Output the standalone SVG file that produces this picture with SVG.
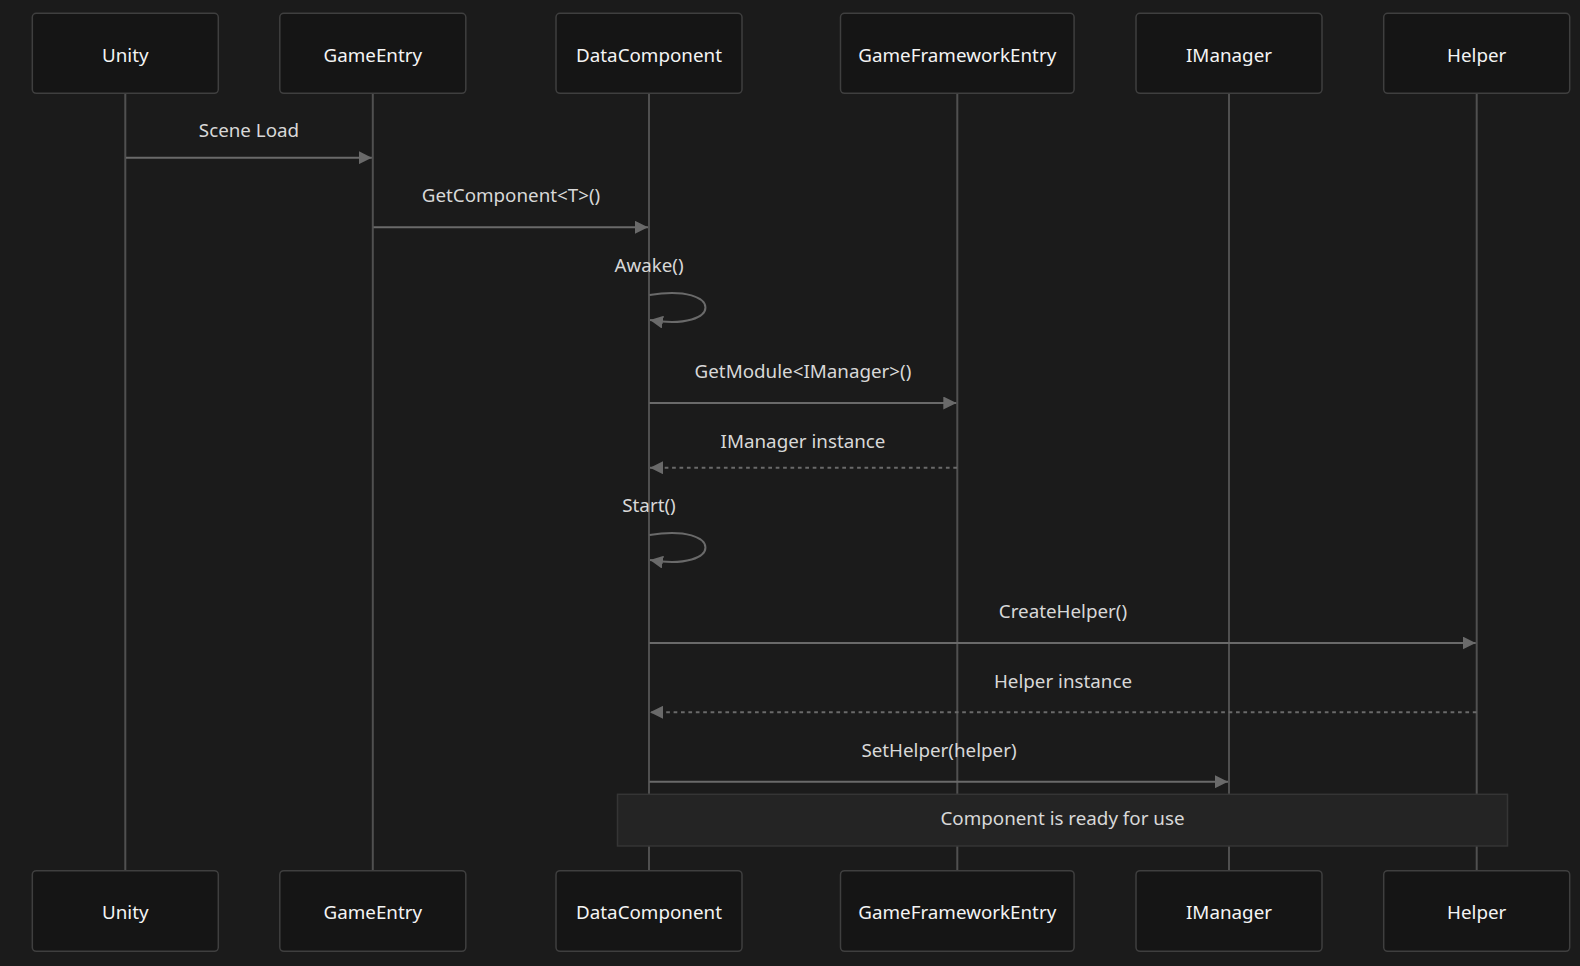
<svg xmlns="http://www.w3.org/2000/svg" width="1580" height="966" viewBox="0 0 1580 966">
<defs>
<style>
.actor rect{fill:#151515;stroke:#3f3f3f;stroke-width:1.5}
.actor text{fill:#f4f4f4;font-family:"Noto Sans","Open Sans",sans-serif;font-size:18.8px;text-anchor:middle;dominant-baseline:central}
.life{stroke:#505050;stroke-width:2}
.msg{stroke:#6a6a6a;stroke-width:2;fill:none}
.dash{stroke-dasharray:3.7 3.7}
.lbl{fill:#d8d8d8;font-family:"Noto Sans","Open Sans",sans-serif;font-size:18.8px;text-anchor:middle;dominant-baseline:central}
.note rect{fill:#242424;stroke:#353535;stroke-width:1.5}
</style>
<marker id="ah" viewBox="0 0 13 13" refX="13" refY="6.5" markerWidth="13" markerHeight="13" markerUnits="userSpaceOnUse" orient="auto">
<path d="M0,0 L13,6.5 L0,13 z" fill="#6a6a6a"/>
</marker>
</defs>
<rect width="1580" height="966" fill="#1b1b1b"/>
<g id="lifelines">
<line class="life" x1="125.3" y1="93.3" x2="125.3" y2="870.7"/>
<line class="life" x1="372.8" y1="93.3" x2="372.8" y2="870.7"/>
<line class="life" x1="649" y1="93.3" x2="649" y2="870.7"/>
<line class="life" x1="957.3" y1="93.3" x2="957.3" y2="870.7"/>
<line class="life" x1="1229" y1="93.3" x2="1229" y2="870.7"/>
<line class="life" x1="1476.7" y1="93.3" x2="1476.7" y2="870.7"/>
</g>
<g id="actor-unity" class="actor">
<rect x="32.3" y="13.3" width="186" height="80" rx="4"/><text x="125.3" y="55">Unity</text>
<rect x="32.3" y="870.7" width="186" height="80.6" rx="4"/><text x="125.3" y="912">Unity</text>
</g>
<g id="actor-gameentry" class="actor">
<rect x="279.8" y="13.3" width="186" height="80" rx="4"/><text x="372.8" y="55">GameEntry</text>
<rect x="279.8" y="870.7" width="186" height="80.6" rx="4"/><text x="372.8" y="912">GameEntry</text>
</g>
<g id="actor-datacomponent" class="actor">
<rect x="556" y="13.3" width="186" height="80" rx="4"/><text x="649" y="55">DataComponent</text>
<rect x="556" y="870.7" width="186" height="80.6" rx="4"/><text x="649" y="912">DataComponent</text>
</g>
<g id="actor-gameframeworkentry" class="actor">
<rect x="840.5" y="13.3" width="233.6" height="80" rx="4"/><text x="957.3" y="55">GameFrameworkEntry</text>
<rect x="840.5" y="870.7" width="233.6" height="80.6" rx="4"/><text x="957.3" y="912">GameFrameworkEntry</text>
</g>
<g id="actor-imanager" class="actor">
<rect x="1136" y="13.3" width="186" height="80" rx="4"/><text x="1229" y="55">IManager</text>
<rect x="1136" y="870.7" width="186" height="80.6" rx="4"/><text x="1229" y="912">IManager</text>
</g>
<g id="actor-helper" class="actor">
<rect x="1383.7" y="13.3" width="186" height="80" rx="4"/><text x="1476.7" y="55">Helper</text>
<rect x="1383.7" y="870.7" width="186" height="80.6" rx="4"/><text x="1476.7" y="912">Helper</text>
</g>
<g id="connectors">
<line class="msg" x1="126" y1="157.7" x2="371.8" y2="157.7" marker-end="url(#ah)"/>
<text class="lbl" x="249" y="130">Scene Load</text>
<line class="msg" x1="373.5" y1="227.3" x2="648" y2="227.3" marker-end="url(#ah)"/>
<text class="lbl" x="511" y="195">GetComponent&lt;T&gt;()</text>
<path class="msg" d="M649.5,295 C724,282.6 724,332.2 650,320" marker-end="url(#ah)"/>
<text class="lbl" x="649" y="265">Awake()</text>
<line class="msg" x1="649.5" y1="403" x2="956.3" y2="403" marker-end="url(#ah)"/>
<text class="lbl" x="803" y="370.7">GetModule&lt;IManager&gt;()</text>
<line class="msg dash" x1="957" y1="467.7" x2="650" y2="467.7" marker-end="url(#ah)"/>
<text class="lbl" x="803" y="440.7">IManager instance</text>
<path class="msg" d="M649.5,535 C724,522.6 724,572.2 650,560" marker-end="url(#ah)"/>
<text class="lbl" x="649" y="505">Start()</text>
<line class="msg" x1="649.5" y1="643" x2="1475.7" y2="643" marker-end="url(#ah)"/>
<text class="lbl" x="1063" y="610.7">CreateHelper()</text>
<line class="msg dash" x1="1476.5" y1="712.3" x2="650" y2="712.3" marker-end="url(#ah)"/>
<text class="lbl" x="1063" y="680.7">Helper instance</text>
<line class="msg" x1="649.5" y1="781.7" x2="1228" y2="781.7" marker-end="url(#ah)"/>
<text class="lbl" x="939" y="750">SetHelper(helper)</text>
</g>
<g id="note" class="note">
<rect x="617.5" y="794.3" width="890" height="51.7"/>
<text class="lbl" x="1062.5" y="818.3">Component is ready for use</text>
</g>
</svg>
